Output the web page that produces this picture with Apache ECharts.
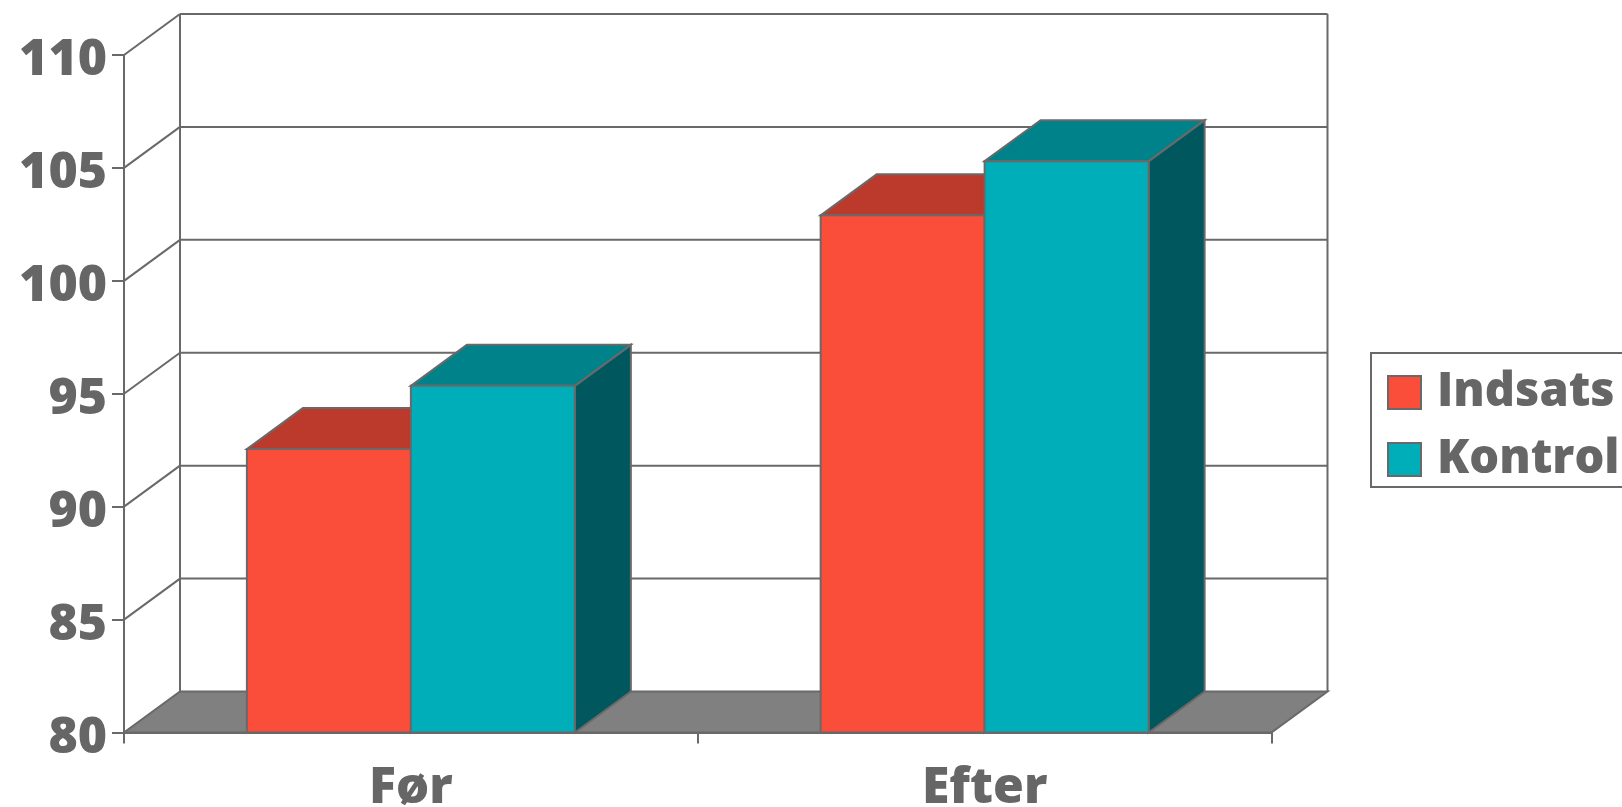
<!DOCTYPE html>
<html>
<head>
<meta charset="utf-8">
<style>html,body{margin:0;padding:0;background:#fff;overflow:hidden}#chart{width:1622px;height:807px}</style>
<script src="https://cdn.jsdelivr.net/npm/echarts@6/dist/echarts.min.js"></script>
</head>
<body>
<div id="chart"></div>
<script>
const categories = ['Før', 'Efter'];
const indsats = [92.55, 102.9];
const kontrol = [95.35, 105.3];
const valueTicks = [80, 85, 90, 95, 100, 105, 110];

const LINE = '#696969';
const TEXT = '#666666';
const FONT = '"Open Sans"';
const WEIGHT = 800;
const DEPTH_X = 56;
const DEPTH_Y = -41;
const BAR_BAND = 0.2858;

const stroke = { stroke: LINE, lineWidth: 2, fill: 'none' };
const line = (x1, y1, x2, y2) => ({ type: 'line', shape: { x1, y1, x2, y2 }, style: stroke });
const poly = (points, fill) => ({
  type: 'polygon', shape: { points }, style: { fill, stroke: LINE, lineWidth: 2, lineJoin: 'miter' }
});

// Back wall, floor and the slanted links from the front axis to the wall.
function renderWall(params, api) {
  const box = params.coordSys;
  const y = api.coord([0, api.value(1)])[1];
  const left = box.x;
  const right = box.x + box.width;
  const children = [];
  if (api.value(1) === valueTicks[0]) {
    children.push(poly([[left, y], [right, y], [right + DEPTH_X, y + DEPTH_Y], [left + DEPTH_X, y + DEPTH_Y]], '#808080'));
  } else {
    children.push(line(left, y, left + DEPTH_X, y + DEPTH_Y));
    children.push(line(left + DEPTH_X, y + DEPTH_Y, right + DEPTH_X, y + DEPTH_Y));
  }
  if (api.value(1) === valueTicks[valueTicks.length - 1]) {
    children.push(line(left + DEPTH_X, y + DEPTH_Y, left + DEPTH_X, box.y + box.height + DEPTH_Y));
    children.push(line(right + DEPTH_X, y + DEPTH_Y, right + DEPTH_X, box.y + box.height + DEPTH_Y));
  }
  return { type: 'group', children };
}

// One extruded column: side and top faces behind the front face.
function columnRenderer(offset, front, top, side) {
  return function (params, api) {
    const cat = api.value(0);
    const head = api.coord([cat, api.value(1)]);
    const base = api.coord([cat, valueTicks[0]]);
    const width = api.size([1, 0])[0] * BAR_BAND;
    const x0 = head[0] + offset * width;
    const x1 = x0 + width;
    const yT = head[1];
    const yB = base[1];
    return {
      type: 'group',
      children: [
        poly([[x1, yT], [x1 + DEPTH_X, yT + DEPTH_Y], [x1 + DEPTH_X, yB + DEPTH_Y], [x1, yB]], side),
        poly([[x0, yT], [x0 + DEPTH_X, yT + DEPTH_Y], [x1 + DEPTH_X, yT + DEPTH_Y], [x1, yT]], top),
        poly([[x0, yT], [x1, yT], [x1, yB], [x0, yB]], front)
      ]
    };
  };
}

const chart = echarts.init(document.getElementById('chart'), null, { renderer: 'canvas' });
chart.setOption({
  animation: false,
  backgroundColor: '#ffffff',
  grid: { left: 124, right: 350.5, top: 55, bottom: 74.5, outerBoundsMode: 'none' },
  legend: {
    left: 1371,
    top: 353,
    orient: 'vertical',
    selectedMode: false,
    padding: [16, 40, 4, 16],
    itemGap: 20,
    itemWidth: 33,
    itemHeight: 33,
    borderColor: LINE,
    borderWidth: 2,
    textStyle: { color: TEXT, fontFamily: FONT, fontWeight: WEIGHT, fontSize: 47, lineHeight: 33, padding: [2, 0, 0, 11] },
    data: [
      { name: 'Indsats', icon: 'rect', itemStyle: { color: '#FA4D3A', borderColor: LINE, borderWidth: 2 } },
      { name: 'Kontrol', icon: 'rect', itemStyle: { color: '#00AEB9', borderColor: LINE, borderWidth: 2 } }
    ]
  },
  xAxis: {
    type: 'category',
    data: categories,
    z: 10,
    axisLine: { lineStyle: { color: LINE, width: 2 } },
    axisTick: { show: true, length: 11, lineStyle: { color: LINE, width: 2 } },
    axisLabel: { color: TEXT, fontFamily: FONT, fontWeight: WEIGHT, fontSize: 50, margin: 31 }
  },
  yAxis: {
    type: 'value',
    min: 80,
    max: 110,
    interval: 5,
    z: 10,
    splitLine: { show: false },
    axisLine: { show: true, lineStyle: { color: LINE, width: 2 } },
    axisTick: { show: true, length: 12, lineStyle: { color: LINE, width: 2 } },
    axisLabel: {
      color: TEXT, fontFamily: FONT, fontWeight: WEIGHT, fontSize: 50, margin: 17,
      verticalAlign: 'top', lineHeight: 12
    }
  },
  series: [
    {
      type: 'custom', name: 'wall', z: 1, silent: true,
      data: valueTicks.map(v => [0, v]),
      renderItem: renderWall
    },
    {
      type: 'custom', name: 'Indsats', z: 2, silent: true,
      itemStyle: { color: '#FA4D3A' },
      data: indsats.map((v, i) => [i, v]),
      renderItem: columnRenderer(-1, '#FA4D3A', '#BB3A2B', '#A5342A')
    },
    {
      type: 'custom', name: 'Kontrol', z: 3, silent: true,
      itemStyle: { color: '#00AEB9' },
      data: kontrol.map((v, i) => [i, v]),
      renderItem: columnRenderer(0, '#00AEB9', '#00828B', '#00585E')
    }
  ]
});
</script>
</body>
</html>
